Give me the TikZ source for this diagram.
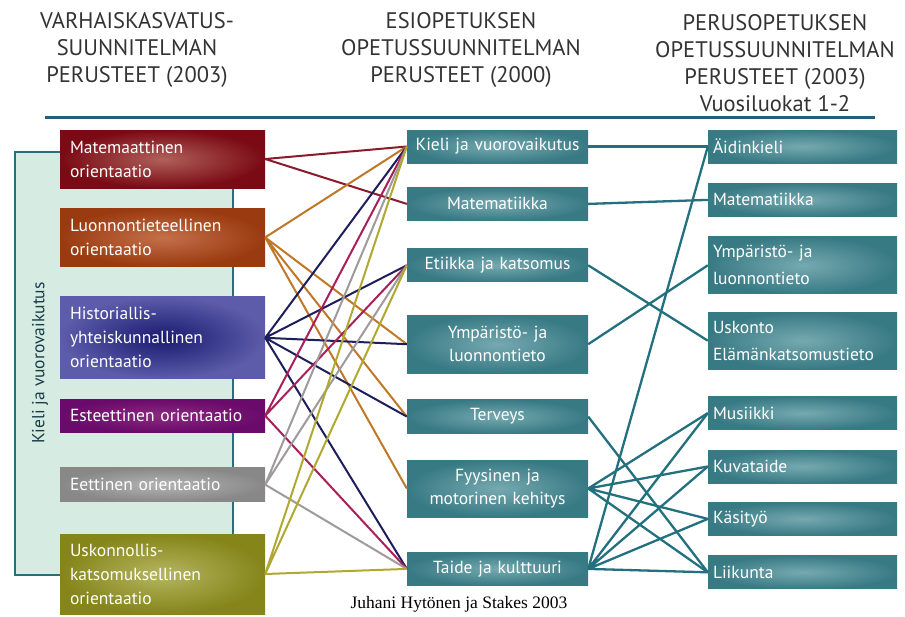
\documentclass[tikz,border=0pt]{standalone}
\usepackage{fontspec}
\setmainfont{PT Sans}
\newfontfamily\credfont{Liberation Serif}
\usepackage{tikz}
\usetikzlibrary{positioning}

\definecolor{headgray}{HTML}{333333}
\definecolor{rulecol}{HTML}{22607A}
\definecolor{mint}{HTML}{D6ECE3}
\definecolor{panelline}{HTML}{2A6E7C}
\definecolor{kvtext}{HTML}{1C3C48}
\definecolor{tealbox}{HTML}{387A84}
\definecolor{teallight}{HTML}{76A9B0}
\definecolor{tealline}{HTML}{23707F}
\definecolor{matout}{HTML}{7A0A14}
\definecolor{matin}{HTML}{B0605A}
\definecolor{luoout}{HTML}{9A3A10}
\definecolor{luoin}{HTML}{C4704A}
\definecolor{hisout}{HTML}{5C5CAA}
\definecolor{hisin}{HTML}{1A1A70}
\definecolor{estout}{HTML}{6A0A6A}
\definecolor{estin}{HTML}{8A2A80}
\definecolor{eetout}{HTML}{888888}
\definecolor{eetin}{HTML}{B4B4B4}
\definecolor{uskout}{HTML}{85851A}
\definecolor{uskin}{HTML}{B5B560}
\definecolor{redline}{HTML}{8B1A2A}
\definecolor{orangeline}{HTML}{C07828}
\definecolor{navyline}{HTML}{1E1E5A}
\definecolor{magline}{HTML}{A8205A}
\definecolor{grayline}{HTML}{A09A9A}
\definecolor{oliveline}{HTML}{B0A830}

\begin{document}
\begin{tikzpicture}[x=1pt, y=-1pt,
    head/.style={align=center, text=headgray, font=\fontsize{22.5}{27}\selectfont},
    lbox/.style={rectangle, shade, text=white, align=left, text width=185pt, inner xsep=10pt, inner ysep=2pt, font=\fontsize{17.5}{24}\selectfont},
    mbox/.style={rectangle, shade, inner color=teallight, outer color=tealbox, text=white, align=center, text width=171pt, inner xsep=5pt, inner ysep=2pt, minimum height=33pt, font=\fontsize{17.5}{23}\selectfont},
    rbox/.style={mbox, align=left, text width=179pt, font=\fontsize{17.5}{27}\selectfont},
    link/.style={line width=2pt},
    redlink/.style={link, redline},
    orangelink/.style={link, orangeline},
    navylink/.style={link, navyline},
    maglink/.style={link, magline},
    graylink/.style={link, grayline},
    olivelink/.style={link, oliveline},
    teallink/.style={line width=2.3pt, tealline},
    node distance=20pt
]
\useasboundingbox[fill=white] (0,0) rectangle (905,616);

% headers
\node[head] (h1) at (137,50) {VARHAISKASVATUS-\\SUUNNITELMAN\\PERUSTEET (2003)};
\node[head] (h2) at (461,50) {ESIOPETUKSEN\\OPETUSSUUNNITELMAN\\PERUSTEET (2000)};
\node[head] (h3) at (775,63) {PERUSOPETUKSEN\\OPETUSSUUNNITELMAN\\PERUSTEET (2003)\\Vuosiluokat 1-2};
\coordinate (rl) at (45,117);
\coordinate (rr) at (875,117);
\draw[rulecol, line width=3pt] (rl) -- (rr);

% background panel
\draw[fill=mint, draw=panelline, line width=2pt] (15,152) rectangle (233,575);
\node[rotate=90, text=kvtext, font=\fontsize{17.5}{19}\selectfont] (kv) at (40,363) {Kieli ja vuorovaikutus};

% left column
\node[lbox, inner color=matin, outer color=matout, minimum height=58pt] (vm1) at (162.5,159) {Matemaattinen\\orientaatio};
\node[lbox, inner color=luoin, outer color=luoout, minimum height=58pt, below=20pt of vm1] (vm2) {Luonnontieteellinen\\orientaatio};
\node[lbox, inner color=hisin, outer color=hisout, minimum height=82pt, below=30pt of vm2] (vm3) {Historiallis-\\yhteiskunnallinen\\orientaatio};
\node[lbox, inner color=estin, outer color=estout, minimum height=33pt, below=20pt of vm3] (vm4) {Esteettinen orientaatio};
\node[lbox, inner color=eetin, outer color=eetout, minimum height=34pt, below=35pt of vm4] (vm5) {Eettinen orientaatio};
\node[lbox, inner color=uskin, outer color=uskout, minimum height=80pt, below=32pt of vm5] (vm6) {Uskonnollis-\\katsomuksellinen\\orientaatio};

% middle column
\node[mbox] (eo1) at (497.5,146.5) {Kieli ja vuorovaikutus};
\node[mbox, below=24pt of eo1] (eo2) {Matematiikka};
\node[mbox, below=28pt of eo2] (eo3) {Etiikka ja katsomus};
\node[mbox, minimum height=58pt, below=33pt of eo3] (eo4) {Ympäristö- ja\\luonnontieto};
\node[mbox, minimum height=34pt, below=26pt of eo4] (eo5) {Terveys};
\node[mbox, minimum height=57pt, below=26pt of eo5] (eo6) {Fyysinen ja\\motorinen kehitys};
\node[mbox, below=35pt of eo6] (eo7) {Taide ja kulttuuri};

% right column
\node[rbox] (po1) at (802.5,146.5) {Äidinkieli};
\node[rbox, below=20pt of po1] (po2) {Matematiikka};
\node[rbox, minimum height=57pt, below=20pt of po2] (po3) {Ympäristö- ja\\luonnontieto};
\node[rbox, minimum height=57pt, below=18pt of po3] (po4) {Uskonto\\Elämänkatsomustieto};
\node[rbox, below=27pt of po4] (po5) {Musiikki};
\node[rbox, below=20pt of po5] (po6) {Kuvataide};
\node[rbox, below=19pt of po6] (po7) {Käsityö};
\node[rbox, below=20pt of po7] (po8) {Liikunta};

% left to middle
\draw[redlink] (vm1.east) -- (eo1.west) (vm1.east) -- (eo2.west);
\draw[orangelink] (vm2.east) -- (eo1.west) (vm2.east) -- (eo4.west)
    (vm2.east) -- (eo5.west) (vm2.east) -- (eo6.west);
\draw[navylink] (vm3.east) -- (eo1.west) (vm3.east) -- (eo3.west) (vm3.east) -- (eo4.west)
    (vm3.east) -- (eo5.west) (vm3.east) -- (eo7.west);
\draw[maglink] (vm4.east) -- (eo1.west) (vm4.east) -- (eo3.west) (vm4.east) -- (eo7.west);
\draw[graylink] (vm5.east) -- (eo1.west) (vm5.east) -- (eo3.west) (vm5.east) -- (eo7.west);
\draw[olivelink] (vm6.east) -- (eo1.west) (vm6.east) -- (eo3.west) (vm6.east) -- (eo7.west);

% middle to right
\draw[teallink] (eo1.east) -- (po1.west);
\draw[teallink] (eo2.east) -- (po2.west);
\draw[teallink] (eo3.east) -- (po4.west);
\draw[teallink] (eo4.east) -- (po3.west);
\draw[teallink] (eo5.east) -- (po8.west);
\draw[teallink] (eo6.east) -- (po5.west) (eo6.east) -- (po6.west)
    (eo6.east) -- (po7.west) (eo6.east) -- (po8.west);
\draw[teallink] (eo7.east) -- (po1.west) (eo7.east) -- (po5.west) (eo7.east) -- (po6.west)
    (eo7.east) -- (po7.west) (eo7.east) -- (po8.west);

\node[font=\credfont\fontsize{17.5}{19}\selectfont] (cred) at (459,604) {Juhani Hytönen ja Stakes 2003};

\end{tikzpicture}
\end{document}
